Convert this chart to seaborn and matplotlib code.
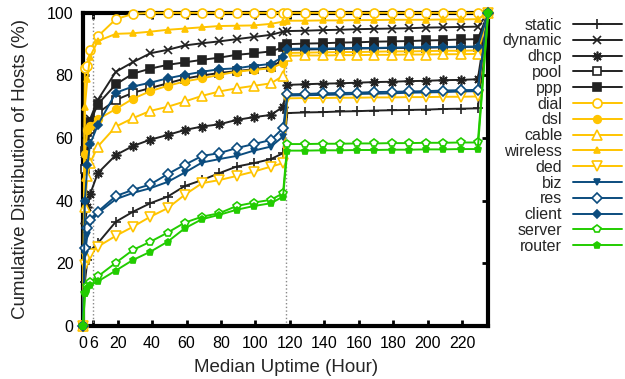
import matplotlib
matplotlib.use("Agg")
import matplotlib.pyplot as plt
import seaborn as sns
import pandas as pd

# Datos (horas vs. % acumulado)
hours = [0, 1, 2.5, 4, 8.5, 19, 29, 39, 49, 59, 69, 79, 89, 99, 109, 116,
         118.5, 129, 139, 149, 159, 169, 179, 189, 199, 209, 219, 229, 235]

static = [0, 14, 21, 24, 26.4, 33.3, 36.5, 39.2, 41.3, 44.7, 46.6, 48.8, 50.9, 52.0, 53.3, 55.2,
          68.0, 68.2, 68.3, 68.5, 68.6, 68.8, 68.9, 69.0, 69.1, 69.3, 69.4, 69.5, 100]
dynamic = [0, 55, 62, 66, 72.2, 81.2, 84.3, 87.1, 88.2, 89.6, 90.3, 90.9, 91.6, 92.3, 93.0, 94.0,
           94.2, 94.3, 94.5, 94.6, 94.8, 94.9, 95.0, 95.1, 95.3, 95.4, 95.5, 95.6, 100]
dhcp = [0, 33, 38, 42, 48.8, 54.6, 57.5, 59.5, 61.0, 62.6, 63.7, 64.4, 65.8, 66.7, 67.4, 70.0,
        77.0, 77.2, 77.4, 77.5, 77.7, 77.9, 78.0, 78.2, 78.3, 78.5, 78.6, 78.8, 100]
pool = [0, 50, 58, 63, 68, 72.2, 74.5, 76.0, 77.5, 79.0, 80.0, 80.8, 81.4, 82.0, 82.7, 85.0,
        88.2, 88.3, 88.4, 88.5, 88.6, 88.7, 88.8, 88.8, 88.9, 89.0, 89.1, 89.2, 100]
ppp = [0, 56, 62, 65, 70.8, 77.2, 80.6, 82.2, 83.4, 84.2, 85.0, 85.7, 86.6, 87.1, 87.7, 89.0,
       90.0, 90.2, 90.3, 90.5, 90.6, 90.8, 90.9, 91.0, 91.2, 91.3, 91.5, 91.6, 100]
dial = [0, 82.3, 83.0, 88.2, 92.5, 98.0, 99.7, 100, 100, 100, 100, 100, 100, 100, 100, 100,
        100, 100, 100, 100, 100, 100, 100, 100, 100, 100, 100, 100, 100]
dsl = [0, 55, 62.5, 64, 66, 69.3, 72.6, 75.0, 76.7, 78.1, 79.1, 80.2, 81.2, 81.8, 82.3, 84.0,
       87.2, 87.3, 87.4, 87.5, 87.5, 87.6, 87.7, 87.7, 87.8, 87.9, 87.9, 88.0, 100]
cable = [0, 38, 48, 52, 57.3, 63.7, 66.4, 68.7, 70.0, 71.7, 73.5, 74.9, 75.9, 76.7, 77.5, 79.9,
         86.3, 86.4, 86.4, 86.5, 86.5, 86.6, 86.6, 86.7, 86.7, 86.8, 86.8, 86.9, 100]
wireless = [0, 70, 79, 86, 91, 93.3, 93.5, 94.0, 94.6, 95.0, 95.4, 95.8, 95.9, 96.0, 96.5, 97.2,
            97.5, 97.5, 97.6, 97.6, 97.7, 97.7, 97.8, 97.8, 97.8, 97.9, 97.9, 98.0, 100]
ded = [0, 19.5, 21.6, 23.0, 25.3, 28.8, 31.7, 34.9, 37.6, 41.9, 45.6, 46.6, 47.9, 49.3, 50.9, 52.0,
       72.7, 72.8, 72.8, 72.9, 72.9, 73.0, 73.0, 73.1, 73.1, 73.2, 73.2, 73.3, 100]
biz = [0, 23, 29, 33, 36, 40.5, 42.5, 44.0, 46.0, 49.0, 52.2, 53.3, 54.3, 56.0, 57.3, 60.5,
       73.6, 73.7, 73.8, 73.9, 74.1, 74.2, 74.3, 74.5, 74.6, 74.7, 74.9, 75.0, 100]
res = [0, 25, 31.2, 34, 36.5, 41.5, 43.5, 45.2, 48.5, 51.5, 54.3, 55.2, 56.8, 58.1, 59.4, 63.2,
       74.0, 74.1, 74.3, 74.4, 74.5, 74.7, 74.8, 74.9, 75.0, 75.2, 75.3, 75.4, 100]
client = [0, 40, 51.4, 58, 64.2, 74.5, 76.5, 77.7, 79.1, 80.2, 81.2, 82.0, 82.3, 83.1, 83.7, 86.0,
          88.5, 88.6, 88.6, 88.7, 88.8, 88.8, 88.9, 89.0, 89.0, 89.1, 89.2, 89.2, 100]
server = [0, 10.5, 12.6, 14, 15.8, 20.2, 24.3, 26.9, 29.8, 33.0, 34.9, 36.0, 38.3, 39.4, 40.3, 42.4,
          58.1, 58.1, 58.2, 58.2, 58.3, 58.3, 58.4, 58.4, 58.5, 58.5, 58.6, 58.6, 100]
router = [0, 10.4, 12.0, 13.0, 14.2, 17.7, 21.1, 23.7, 26.9, 31.2, 34.1, 35.5, 37.1, 38.3, 39.2, 41.3,
          56.0, 56.0, 56.1, 56.1, 56.2, 56.2, 56.3, 56.3, 56.4, 56.4, 56.5, 56.5, 100]

x_ticks = [0, 6, 20, 40, 60, 80, 100, 120, 140, 160, 180, 200, 220]

negro = "#222222"
amarillo = "#FFC400"
azul = "#0B4C7E"
verde = "#22CC00"

# (nombre, datos, color, marcador, tamaño, relleno)
series = [
    ("static", static, negro, "+", 7, True),
    ("dynamic", dynamic, negro, "x", 6, True),
    ("dhcp", dhcp, negro, (8, 2, 0), 7, True),
    ("pool", pool, negro, "s", 5.5, False),
    ("ppp", ppp, negro, "s", 5.5, True),
    ("dial", dial, amarillo, "o", 6.5, False),
    ("dsl", dsl, amarillo, "o", 5.5, True),
    ("cable", cable, amarillo, "^", 6.5, False),
    ("wireless", wireless, amarillo, "^", 4.5, True),
    ("ded", ded, amarillo, "v", 6.5, False),
    ("biz", biz, azul, "v", 4.5, True),
    ("res", res, azul, "D", 5, False),
    ("client", client, azul, "D", 3.8, True),
    ("server", server, verde, "p", 6, False),
    ("router", router, verde, "p", 4.5, True),
]

sns.set_style("ticks")
plt.rcParams['font.family'] = ['Liberation Sans', 'DejaVu Sans']

fig = plt.figure(figsize=(6.25, 3.79), dpi=100)
ax = fig.add_axes([0.133, 0.14, 0.648, 0.826])

# Lineas punteadas verticales
ax.axvline(6, color="#888888", ls=":", lw=1, zorder=1)
ax.axvline(117.5, color="#888888", ls=":", lw=1, zorder=1)

for nombre, valores, color, marcador, tam, relleno in series:
    df = pd.DataFrame({"Hora": hours, "CDF": valores})
    sns.lineplot(data=df, x="Hora", y="CDF", ax=ax, color=color, label=nombre,
                 marker=marcador, markersize=tam, linewidth=1.4,
                 markerfacecolor=color if relleno else "white",
                 markeredgecolor=color, markeredgewidth=1.2,
                 clip_on=False, zorder=3)

ax.set_xlim(0, 235)
ax.set_ylim(0, 100)
ax.set_xticks(x_ticks)
ax.set_yticks([0, 20, 40, 60, 80, 100])
ax.tick_params(direction="in", length=4, width=2, labelsize=11.5, pad=7,
               top=True, right=True, colors="black")
for s in ax.spines.values():
    s.set_linewidth(3)
    s.set_color("black")
    s.set_zorder(2)

ax.set_xlabel("Median Uptime (Hour)", fontsize=13.5, labelpad=6)
ax.set_ylabel("Cumulative Distribution of Hosts (%)", fontsize=13.5, labelpad=13)

ax.legend(loc="upper left", bbox_to_anchor=(1.024, 1.0), frameon=False, markerfirst=False,
          fontsize=11.5, labelspacing=0.05, handlelength=3.1, handletextpad=0.65,
          borderaxespad=0.2, borderpad=0.1)

fig.savefig("out.png", dpi=100)
